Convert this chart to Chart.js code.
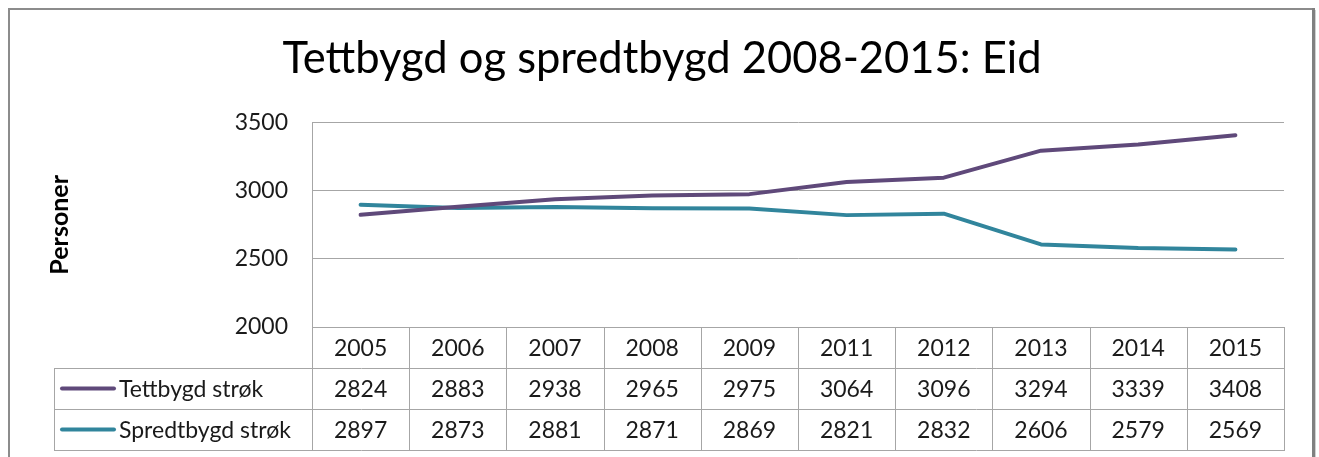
<!DOCTYPE html>
<html><head><meta charset="utf-8">
<script src="https://cdn.jsdelivr.net/npm/chart.js@4/dist/chart.umd.min.js"></script>
<style>html,body{margin:0;padding:0;background:#fff;overflow:hidden}</style>
</head><body>
<canvas id="c" width="1319" height="457"></canvas>
<script>
const years = ['2005','2006','2007','2008','2009','2011','2012','2013','2014','2015'];
const tettbygd = [2824,2883,2938,2965,2975,3064,3096,3294,3339,3408];
const spredtbygd = [2897,2873,2881,2871,2869,2821,2832,2606,2579,2569];
const seriesNames = ['Tettbygd strøk','Spredtbygd strøk'];
const seriesColors = ['#5F497A','#31859C'];
const yTicks = [2000,2500,3000,3500];
const titleText = 'Tettbygd og spredtbygd 2008-2015: Eid';
const yTitle = 'Personer';

const FONT = 'Lato';
const GRID = '#A6A6A6';

const frame = {
  id: 'frame',
  afterDraw(chart) {
    const ctx = chart.ctx;
    ctx.save();
    ctx.strokeStyle = '#8C8C8C';
    ctx.lineWidth = 2;
    ctx.beginPath();
    ctx.moveTo(9, 460); ctx.lineTo(9, 9); ctx.lineTo(1313, 9);
    ctx.stroke();
    ctx.lineWidth = 3;
    ctx.strokeStyle = '#808080';
    ctx.beginPath();
    ctx.moveTo(1313.5, 8); ctx.lineTo(1313.5, 460);
    ctx.stroke();
    ctx.lineWidth = 1;
    ctx.strokeStyle = '#D0D0D0';
    ctx.beginPath();
    ctx.moveTo(1315.5, 10); ctx.lineTo(1315.5, 460);
    ctx.stroke();
    ctx.restore();
  }
};

const dataTable = {
  id: 'dataTable',
  afterDraw(chart) {
    const ctx = chart.ctx;
    const area = chart.chartArea;
    const xs = chart.scales.x;
    const n = years.length;
    const colW = xs.getPixelForValue(1) - xs.getPixelForValue(0);
    const left = Math.round(xs.getPixelForValue(0) - colW / 2);
    const right = Math.round(xs.getPixelForValue(n - 1) + colW / 2);
    const rowH = 41;
    const top = Math.round(area.bottom);
    const legLeft = 54;
    const rows = [null, tettbygd, spredtbygd];
    ctx.save();
    ctx.strokeStyle = GRID;
    ctx.lineWidth = 1;
    ctx.beginPath();
    ctx.moveTo(left, top + 0.5); ctx.lineTo(right, top + 0.5);
    for (let r = 1; r <= 3; r++) {
      const y = top + r * rowH + 0.5;
      ctx.moveTo(legLeft, y); ctx.lineTo(right, y);
    }
    for (let i = 0; i <= n; i++) {
      const x = Math.round(xs.getPixelForValue(i) - colW / 2) + 0.5;
      ctx.moveTo(x, top); ctx.lineTo(x, top + 3 * rowH + 1);
    }
    ctx.moveTo(legLeft + 0.5, top + rowH); ctx.lineTo(legLeft + 0.5, top + 3 * rowH + 1);
    ctx.stroke();

    ctx.fillStyle = '#1a1a1a';
    ctx.font = '23px ' + FONT;
    ctx.textAlign = 'center';
    ctx.textBaseline = 'middle';
    for (let r = 0; r < 3; r++) {
      const yMid = top + r * rowH + rowH / 2 + 1;
      for (let i = 0; i < n; i++) {
        const x = xs.getPixelForValue(i);
        const txt = r === 0 ? years[i] : String(rows[r][i]);
        ctx.fillText(txt, x, yMid);
      }
    }
    for (let s = 0; s < 2; s++) {
      const yMid = top + (s + 1) * rowH + rowH / 2 + 1;
      ctx.strokeStyle = seriesColors[s];
      ctx.lineWidth = 4;
      ctx.lineCap = 'round';
      ctx.beginPath();
      ctx.moveTo(62, yMid - 1); ctx.lineTo(114, yMid - 1);
      ctx.stroke();
      ctx.textAlign = 'left';
      ctx.fillText(seriesNames[s], 119, yMid);
    }
    ctx.restore();
  }
};

new Chart(document.getElementById('c'), {
  type: 'line',
  data: {
    labels: years,
    datasets: [
      { label: seriesNames[0], data: tettbygd, borderColor: seriesColors[0], backgroundColor: seriesColors[0],
        borderWidth: 4, pointRadius: 0, tension: 0, borderCapStyle: 'round', borderJoinStyle: 'round' },
      { label: seriesNames[1], data: spredtbygd, borderColor: seriesColors[1], backgroundColor: seriesColors[1],
        borderWidth: 4, pointRadius: 0, tension: 0, borderCapStyle: 'round', borderJoinStyle: 'round' }
    ]
  },
  options: {
    responsive: false,
    animation: false,
    devicePixelRatio: 1,
    layout: { padding: { top: 0, left: 40, right: 35, bottom: 130 } },
    plugins: {
      legend: { display: false },
      tooltip: { enabled: false },
      title: {
        display: true, text: titleText, color: '#000',
        font: { family: FONT, size: 43.5, weight: 'normal', lineHeight: 1.2 },
        padding: { top: 33, bottom: 37.4 }
      }
    },
    scales: {
      x: { type: 'category', offset: true, display: false },
      y: {
        type: 'linear', min: 2000, max: 3500,
        afterBuildTicks(scale) { scale.ticks = yTicks.map(v => ({ value: v })); },
        afterFit(scale) { scale.width = 312 - 40; },
        ticks: { color: '#1a1a1a', font: { family: FONT, size: 23 }, padding: 24, callback: v => String(v) },
        grid: { color: GRID, lineWidth: 1, drawTicks: false },
        border: { display: true, color: GRID, width: 1 },
        title: { display: true, text: yTitle, color: '#000', font: { family: FONT, size: 25, weight: 'bold', lineHeight: 1.2 }, padding: { top: 5, bottom: 0 } }
      }
    }
  },
  plugins: [frame, dataTable]
});
</script>
</body></html>
